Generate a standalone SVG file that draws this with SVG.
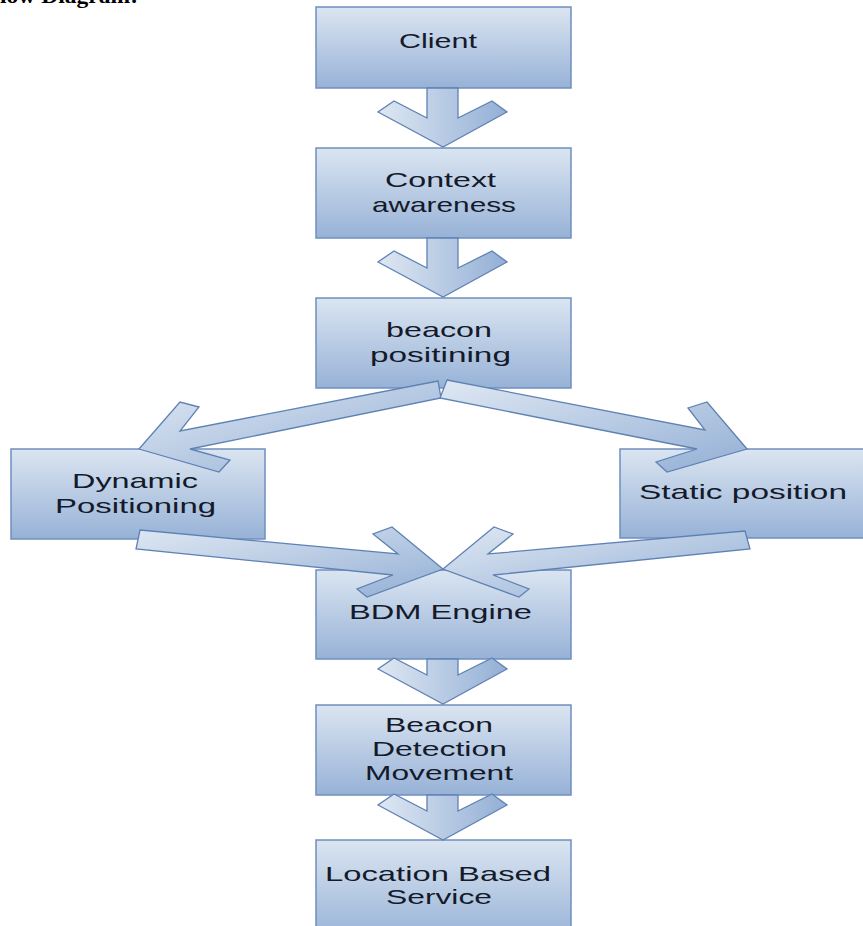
<svg xmlns="http://www.w3.org/2000/svg" width="863" height="926" viewBox="0 0 863 926">
<defs>
<linearGradient id="boxg" x1="0" y1="0" x2="0" y2="1">
<stop offset="0" stop-color="#dbe5f1"/>
<stop offset="1" stop-color="#97b2d7"/>
</linearGradient>
<linearGradient id="arrg" x1="0" y1="0" x2="1" y2="1">
<stop offset="0" stop-color="#dfe8f3"/>
<stop offset="1" stop-color="#93afd5"/>
</linearGradient>
<linearGradient id="arrv" x1="0" y1="0" x2="1" y2="0">
<stop offset="0" stop-color="#dfe8f3"/>
<stop offset="1" stop-color="#93afd5"/>
</linearGradient>
</defs>
<style>
.box{fill:url(#boxg);stroke:#6f8fbd;stroke-width:1.5}
.lbl{font-family:"Liberation Sans",Arial,sans-serif;font-size:21px;fill:#141a2a;text-anchor:start}
.arr{fill:url(#arrg);stroke:#5f82b4;stroke-width:1.3;stroke-linejoin:miter}
.arv{fill:url(#arrv);stroke:#5f82b4;stroke-width:1.3}
.title{font-family:"Liberation Serif","Times New Roman",serif;font-size:22px;font-weight:bold;fill:#000}
</style>
<rect width="863" height="926" fill="#ffffff"/>
<text class="title" x="0" y="3" textLength="138" lengthAdjust="spacingAndGlyphs">low Diagram:</text>

<g id="client">
<rect class="box" x="316" y="7" width="255" height="81"/>
<text class="lbl" x="399" y="48" textLength="78" lengthAdjust="spacingAndGlyphs">Client</text>
</g>
<g id="context">
<rect class="box" x="316" y="148" width="255" height="90"/>
<text class="lbl" x="385" y="187" textLength="111" lengthAdjust="spacingAndGlyphs">Context</text>
<text class="lbl" x="372" y="212" textLength="144" lengthAdjust="spacingAndGlyphs">awareness</text>
</g>
<g id="beacon-positining">
<rect class="box" x="316" y="298" width="255" height="90"/>
<text class="lbl" x="386" y="337" textLength="106" lengthAdjust="spacingAndGlyphs">beacon</text>
<text class="lbl" x="370" y="362" textLength="141" lengthAdjust="spacingAndGlyphs">positining</text>
</g>
<g id="dynamic">
<rect class="box" x="11" y="449" width="254" height="90"/>
<text class="lbl" x="72" y="488" textLength="126" lengthAdjust="spacingAndGlyphs">Dynamic</text>
<text class="lbl" x="55" y="513" textLength="161" lengthAdjust="spacingAndGlyphs">Positioning</text>
</g>
<g id="static">
<rect class="box" x="620" y="449" width="260" height="89"/>
<text class="lbl" x="639" y="499" textLength="208" lengthAdjust="spacingAndGlyphs">Static position</text>
</g>
<g id="bdm">
<rect class="box" x="316" y="570" width="255" height="89"/>
<text class="lbl" x="349" y="619" textLength="183" lengthAdjust="spacingAndGlyphs">BDM Engine</text>
</g>
<g id="detection">
<rect class="box" x="316" y="705" width="255" height="90"/>
<text class="lbl" x="385" y="732" textLength="108" lengthAdjust="spacingAndGlyphs">Beacon</text>
<text class="lbl" x="372" y="756" textLength="135" lengthAdjust="spacingAndGlyphs">Detection</text>
<text class="lbl" x="365" y="780" textLength="148" lengthAdjust="spacingAndGlyphs">Movement</text>
</g>
<g id="lbs">
<rect class="box" x="316" y="840" width="255" height="100"/>
<text class="lbl" x="325" y="881" textLength="226" lengthAdjust="spacingAndGlyphs">Location Based</text>
<text class="lbl" x="386" y="904" textLength="106" lengthAdjust="spacingAndGlyphs">Service</text>
</g>

<g id="connectors">
<polygon class="arv" points="427,88 458,88 458,118 492,101 507,112 443,147 378,112 394,101 427,118"/>
<polygon class="arv" points="427,238 458,238 458,268 492,251 507,262 443,297 378,262 394,251 427,268"/>
<polygon class="arv" points="427,659 458,659 458,675 492,658 507,669 443,704 378,669 394,658 427,675"/>
<polygon class="arv" points="427,795 458,795 458,811 492,794 507,805 443,840 378,805 394,794 427,811"/>
<polygon class="arr" points="438,381 180,431 199,407 180,402 139,449 219,472 230,460 190,449 441,398"/>
<polygon class="arr" points="447,380 705,430 688,408 707,402 747,449 667,472 656,462 697,449 440,398"/>
<polygon class="arr" points="140,530 398,554 373,534 392,527 443,569 367,597 357,589 393,575 136,549"/>
<polygon class="arr" points="745,531 488,554 513,534 494,527 443,569 519,597 529,589 493,575 750,549"/>
</g>
</svg>
